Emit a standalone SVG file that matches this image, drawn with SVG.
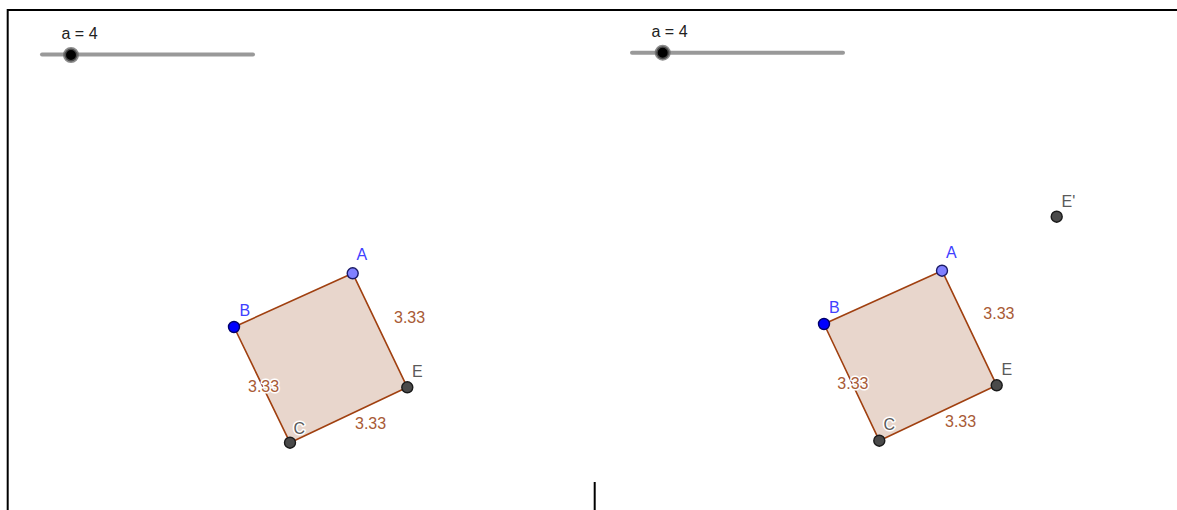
<svg xmlns="http://www.w3.org/2000/svg" width="1177" height="510" viewBox="0 0 1177 510">
<style>
text{font-family:"Liberation Sans",Arial,sans-serif;font-size:16px}
.frame{stroke:#000;stroke-width:2;fill:none}
.track{stroke:#999;stroke-width:4;stroke-linecap:round}
.knob{fill:#000;stroke:#666;stroke-width:3;stroke-opacity:0.75}
.poly{fill:#e8d6cc;stroke:#a04010;stroke-width:1.6;stroke-linejoin:round}
.lab{fill:#222}
.blue{fill:#4040ff}
.gray{fill:#5a5a5a}
.len{fill:#a85a35}
.halo{stroke:#fff;stroke-width:3;paint-order:stroke;stroke-linejoin:round}
.pA{fill:#8080ff;stroke:#1a1a66;stroke-width:1.4}
.pB{fill:#0000ff;stroke:#00006b;stroke-width:1.4}
.pG{fill:#4a4a4a;stroke:#1a1a1a;stroke-width:1.4}
</style>
<rect width="1177" height="510" fill="#fff"/>
<g id="frame">
<line class="frame" x1="7.7" y1="10" x2="1177" y2="10"/>
<line class="frame" x1="7.7" y1="9" x2="7.7" y2="510"/>
<line class="frame" x1="594.7" y1="482" x2="594.7" y2="510"/>
</g>
<g id="slider-left">
<line class="track" x1="42" y1="54.5" x2="253" y2="54.5"/>
<circle class="knob" cx="71" cy="55" r="6.5"/>
<text class="lab" x="61.5" y="39">a = 4</text>
</g>
<g id="slider-right">
<line class="track" x1="632" y1="52.7" x2="843" y2="52.7"/>
<circle class="knob" cx="662.7" cy="52.7" r="6.5"/>
<text class="lab" x="651.5" y="37">a = 4</text>
</g>
<g id="square-left">
<polygon class="poly" points="352.7,273.3 234,327 290,442.7 407.3,387.3"/>
<text class="len" x="394" y="322.5">3.33</text>
<text class="len halo" x="248" y="391.5">3.33</text>
<text class="len" x="355" y="428.5">3.33</text>
<circle class="pA" cx="352.7" cy="273.3" r="5.5"/>
<circle class="pB" cx="234" cy="327" r="5.5"/>
<circle class="pG" cx="290" cy="442.7" r="5.5"/>
<circle class="pG" cx="407.3" cy="387.3" r="5.5"/>
<text class="blue" x="356.5" y="260">A</text>
<text class="blue" x="239.5" y="316">B</text>
<text class="gray halo" x="293.5" y="434">C</text>
<text class="gray" x="412" y="376.5">E</text>
</g>
<g id="square-right">
<polygon class="poly" points="942,270.7 824,324 879.3,440.7 996.7,385.3"/>
<text class="len" x="983.3" y="319.3">3.33</text>
<text class="len halo" x="837.3" y="389">3.33</text>
<text class="len" x="945" y="426.7">3.33</text>
<circle class="pA" cx="942" cy="270.7" r="5.5"/>
<circle class="pB" cx="824" cy="324" r="5.5"/>
<circle class="pG" cx="879.3" cy="440.7" r="5.5"/>
<circle class="pG" cx="996.7" cy="385.3" r="5.5"/>
<text class="blue" x="946" y="258.3">A</text>
<text class="blue" x="829" y="313.3">B</text>
<text class="gray halo" x="883.5" y="430">C</text>
<text class="gray" x="1001.5" y="375">E</text>
</g>
<g id="point-E-prime">
<circle class="pG" cx="1056.7" cy="216.7" r="5.5"/>
<text class="gray" x="1061.5" y="206.7">E'</text>
</g>
</svg>
